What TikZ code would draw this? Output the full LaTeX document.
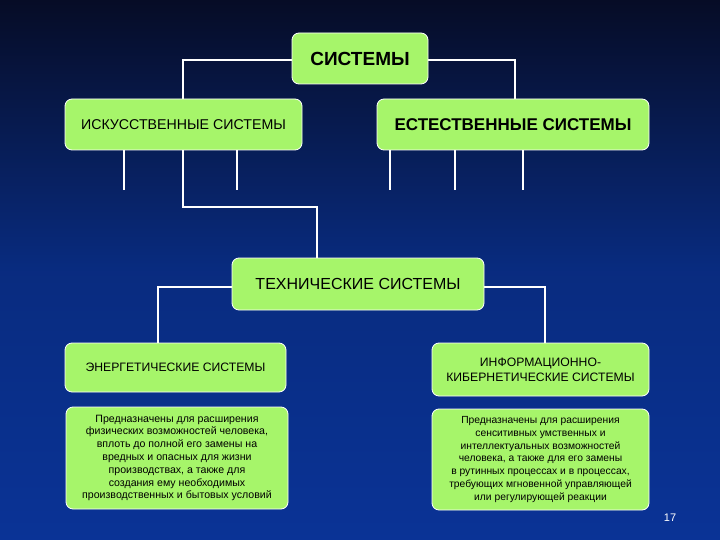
\documentclass[tikz,border=0pt]{standalone}
\usepackage{fontspec}
\setmainfont{Liberation Sans}
\definecolor{gr}{HTML}{A6F56A}
\definecolor{bgtop}{HTML}{060C26}
\definecolor{bgbot}{HTML}{0A3396}
\begin{document}
\begin{tikzpicture}[x=1pt,y=-1pt,
  box/.style={fill=gr,draw=white,line width=0.8pt,rounded corners=7pt,align=center,inner sep=0pt},
  ln/.style={draw=white,line width=2.2pt}]
\shade[top color=bgtop,bottom color=bgbot,middle color=bgbot!85!black] (0,0) rectangle (720,540);
\useasboundingbox (0,0) rectangle (720,540);
% lines
\coordinate (s1) at (124,190); \coordinate (s2) at (237,190);
\coordinate (s3) at (390,190); \coordinate (s4) at (455,190); \coordinate (s5) at (523,190);
\draw[ln] (292,60) -| (183,99);
\draw[ln] (428,60) -| (515,99);
\draw[ln] (124,150) -- (s1); \draw[ln] (237,150) -- (s2);
\draw[ln] (390,150) -- (s3); \draw[ln] (455,150) -- (s4); \draw[ln] (523,150) -- (s5);
\draw[ln] (183,150) |- (317,207) -- (317,258);
\draw[ln] (232,287) -| (158,343);
\draw[ln] (484,287) -| (545,343);
% boxes
\node[box,minimum width=136pt,minimum height=51pt,font=\bfseries\fontsize{19}{21}\selectfont] (sys) at (360,58.5) {СИСТЕМЫ};
\node[box,minimum width=237pt,minimum height=51pt,font=\fontsize{14.2}{17}\selectfont] (isk) at (183.5,124.5) {ИСКУССТВЕННЫЕ СИСТЕМЫ};
\node[box,minimum width=272pt,minimum height=51pt,font=\bfseries\fontsize{17}{19}\selectfont] (est) at (513,124.5) {ЕСТЕСТВЕННЫЕ СИСТЕМЫ};
\node[box,minimum width=252pt,minimum height=52pt,font=\fontsize{16}{18}\selectfont] (teh) at (358,284) {ТЕХНИЧЕСКИЕ СИСТЕМЫ};
\node[box,minimum width=221pt,minimum height=49pt,font=\fontsize{12.2}{14}\selectfont] (en) at (175.5,367.5) {ЭНЕРГЕТИЧЕСКИЕ СИСТЕМЫ};
\node[box,minimum width=217pt,minimum height=53pt,font=\fontsize{12.2}{15}\selectfont] (inf) at (540.5,369.5) {ИНФОРМАЦИОННО-\\КИБЕРНЕТИЧЕСКИЕ СИСТЕМЫ};
\node[box,minimum width=222pt,minimum height=102pt,font=\fontsize{10.6}{12.8}\selectfont] (d1) at (177,458) {Предназначены для расширения\\физических возможностей человека,\\вплоть до полной его замены на\\вредных и опасных для жизни\\производствах,  а также для\\создания ему необходимых\\производственных и бытовых условий};
\node[box,minimum width=217pt,minimum height=101pt,font=\fontsize{10.3}{12.8}\selectfont] (d2) at (540.5,459.5) {Предназначены для расширения\\сенситивных умственных и\\интеллектуальных возможностей\\человека, а также для его замены\\в рутинных  процессах и в процессах,\\требующих  мгновенной управляющей\\или  регулирующей реакции};
\node[text=white,font=\fontsize{11}{13}\selectfont] (pg) at (670,518) {17};
\end{tikzpicture}
\end{document}
